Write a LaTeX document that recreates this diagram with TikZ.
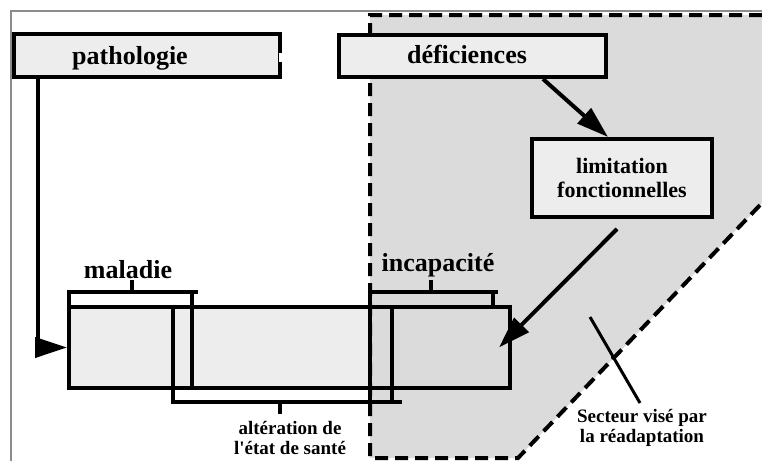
\documentclass[tikz,border=0pt]{standalone}
\usepackage{fontspec}
\setmainfont{Liberation Serif}
\usetikzlibrary{arrows.meta,calc}
\begin{document}
\begin{tikzpicture}[x=1pt,y=-1pt,
  thickline/.style={line width=4pt},
  boxfillc/.style={fill=black!7},
  sectfillc/.style={fill=black!14},
  dashline/.style={line width=4pt,dash pattern=on 13pt off 7pt},
  boxnode/.style={draw,line width=4pt,fill=black!7,inner sep=0pt},
  bigtext/.style={font=\bfseries\fontsize{26}{28}\selectfont,inner sep=0pt},
  smalltext/.style={font=\bfseries\fontsize{19}{20}\selectfont,inner sep=0pt,align=center},
  arrowline/.style={line width=4pt,-{Triangle[length=32pt,width=20pt]}}]
\fill[white] (0,0) rectangle (762,461);
\useasboundingbox (0,0) rectangle (762,461);
% frame
\draw[black!45,line width=1.5pt] (11,461) -- (11,11) -- (762,11);
% bar fill
\fill[boxfillc] (69,307) rectangle (510,388);
% sector
\fill[sectfillc] (370,15) -- (762,15) -- (762,203) -- (518,458) -- (370,458) -- cycle;
\draw[dashline] (762,15) -- (370,15) -- (370,458) -- (518,458) -- (762,203);
% bar
\node[draw,line width=4pt,minimum width=441pt,minimum height=81pt,inner sep=0pt] (bar) at (289.5,347.5) {};
% maladie bracket
\draw[thickline] (69,307) -- (69,292) -- (198,292);
\draw[thickline] (192,292) -- (192,388);
\draw[thickline] (132,292) -- (132,280);
% alteration bracket
\draw[thickline] (173,307) -- (173,402) -- (402,402);
\draw[thickline] (392,307) -- (392,402);
\draw[thickline] (280,402) -- (280,414);
% incapacite bracket
\draw[thickline] (370,402) -- (370,292) -- (498,292);
\draw[thickline] (493,292) -- (493,307);
\draw[thickline] (431,292) -- (431,280);
% boxes
\node[boxnode,minimum width=266pt,minimum height=43pt] (patho) at (147,55.5) {};
\draw[white,line width=6pt] ([yshift=2.5pt]patho.east) -- ([yshift=-6.5pt]patho.east);
\node[boxnode,minimum width=267pt,minimum height=42pt] (def) at (472.5,56) {};
\node[boxnode,minimum width=180pt,minimum height=78pt,align=center,
      font=\bfseries\fontsize{22}{24}\selectfont] (lim) at (622,178) {limitation\\fonctionnelles};
% labels
\node[bigtext,anchor=base] (pathot) at (130,64) {pathologie};
\node[bigtext,anchor=base] (deft) at (467,63) {déficiences};
\node[bigtext,anchor=base] (malt) at (128,278) {maladie};
\node[bigtext,anchor=base] (inct) at (438,271) {incapacité};
\node[smalltext] (altt) at (290,438) {altération de\\l\textquotesingle état de santé};
\node[smalltext] (sect) at (642,428) {Secteur visé par\\la réadaptation};
% arrows
\draw[arrowline] ([xshift=26pt]patho.south west) |- (bar.west);
\draw[arrowline] ([xshift=70.5pt]def.south) -- ([xshift=-14pt]lim.north);
\coordinate (limstart) at ([xshift=-5pt,yshift=-10pt]lim.south);
\coordinate (inctip) at ([xshift=-13pt]bar.east);
\draw[arrowline] (limstart) -- (inctip);
% pointer
\coordinate (ptop) at (590,317);
\coordinate (pbot) at (640,403);
\draw[line width=3pt] (ptop) -- (pbot);
\fill ($(ptop)!0.47!(pbot)$) circle (2.5pt);
\end{tikzpicture}
\end{document}
